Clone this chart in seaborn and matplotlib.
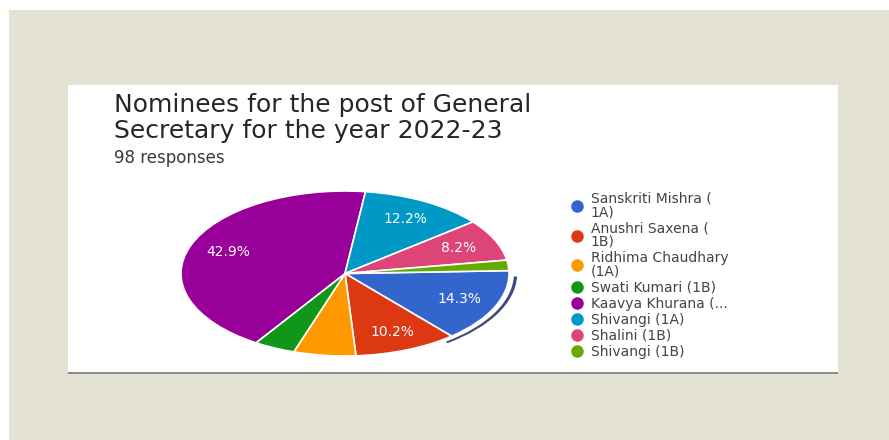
import matplotlib
matplotlib.use("Agg")
import matplotlib.pyplot as plt
import seaborn as sns
from matplotlib.patches import Rectangle
from matplotlib.lines import Line2D

# ---- data ----
candidates = ["Sanskriti Mishra (\n1A)", "Anushri Saxena (\n1B)", "Ridhima Chaudhary\n(1A)",
              "Swati Kumari (1B)", "Kaavya Khurana (...", "Shivangi (1A)", "Shalini (1B)",
              "Shivangi (1B)"]
votes = [14, 10, 6, 4, 42, 12, 8, 2]
slice_colors = ["#3366cc", "#dc3912", "#ff9900", "#109618", "#990099", "#0099c6", "#dd4477", "#66aa00"]
title_lines = ["Nominees for the post of General", "Secretary for the year 2022-23"]
responses_text = "98 responses"
highlighted = [True, False, False, False, False, False, False, False]

sns.set_theme(style="white")
plt.rcParams['font.family'] = ['DejaVu Sans']
palette = sns.color_palette(slice_colors)

W, H = 889, 440
fig = plt.figure(figsize=(W / 100, H / 100), dpi=100)
fig.patch.set_facecolor("#e3e2d3")

def fx(px):
    return px / W

def fy(py):
    return 1 - py / H

# photo borders
fig.patches.append(Rectangle((0, fy(10)), 1, 10 / H, transform=fig.transFigure,
                             facecolor="white", edgecolor="none", zorder=0))
fig.patches.append(Rectangle((0, 0), fx(9), 1, transform=fig.transFigure,
                             facecolor="white", edgecolor="none", zorder=0))
# card shadow and card
fig.patches.append(Rectangle((fx(68), fy(374)), fx(838) - fx(68), (374 - 86) / H,
                             transform=fig.transFigure, facecolor="#8a8a86",
                             edgecolor="none", zorder=0.5))
fig.patches.append(Rectangle((fx(68), fy(372)), fx(838) - fx(68), (372 - 85) / H,
                             transform=fig.transFigure, facecolor="white",
                             edgecolor="none", zorder=1))

fig.text(fx(114), fy(93), "\n".join(title_lines), fontsize=18, color="#262626",
         va="top", ha="left", linespacing=1.12, zorder=3)
fig.text(fx(114), fy(158), responses_text, fontsize=12, color="#3a3a3a",
         va="center", ha="left", zorder=3)

# pie (stretched into an ellipse like the photographed screen)
ax = fig.add_axes([fx(181), fy(356), (509 - 181) / W, (356 - 191) / H])
ax.set_zorder(2)
wedges, texts, autotexts = ax.pie(
    votes, colors=palette, startangle=2, counterclock=False,
    autopct=lambda p: f"{p:.1f}%" if p > 7 else "", pctdistance=0.76,
    wedgeprops=dict(edgecolor="white", linewidth=1.2),
    textprops=dict(color="white", fontsize=10))
ax.pie(votes, radius=1.05, startangle=-2, counterclock=False,
       colors=["#3b4a7c" if h else (0, 0, 0, 0) for h in highlighted],
       wedgeprops=dict(width=0.02, edgecolor="none"))
ax.set_aspect("auto")
ax.set_xlim(-1.0, 1.0)
ax.set_ylim(-1.0, 1.0)
ax.axis("off")

handles = [Line2D([0], [0], marker="o", linestyle="none", markersize=8,
                  markerfacecolor=c, markeredgecolor=c) for c in palette]
leg = fig.legend(handles, candidates, loc="upper left",
                 bbox_to_anchor=(fx(569), fy(192)), frameon=False,
                 fontsize=10, labelspacing=0.15, handletextpad=0.35,
                 handlelength=1.2, borderpad=0, borderaxespad=0)
for t in leg.get_texts():
    t.set_color("#444444")
    t.set_linespacing(0.95)
leg.set_zorder(3)

fig.savefig("out.png", dpi=100, facecolor=fig.get_facecolor())
